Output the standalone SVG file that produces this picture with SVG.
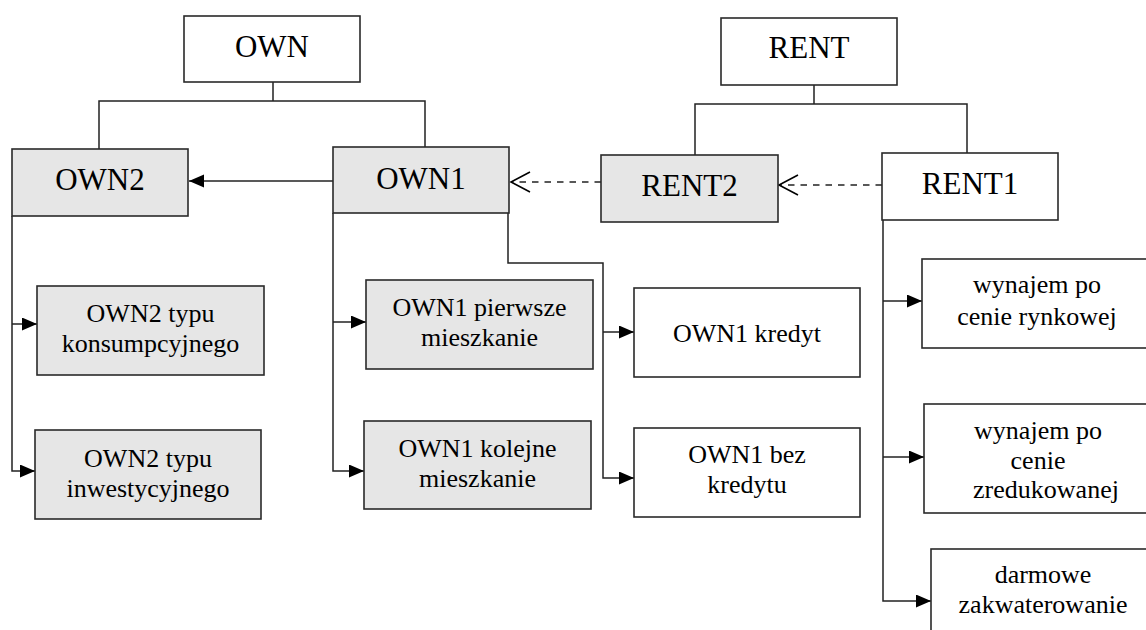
<svg xmlns="http://www.w3.org/2000/svg" width="1146" height="630" viewBox="0 0 1146 630">
<style>
.box{stroke:#2a2a2a;stroke-width:1.6;fill:#ffffff}
.g{fill:#e6e6e6}
.ln{fill:none;stroke:#222;stroke-width:1.5}
.dash{fill:none;stroke:#222;stroke-width:1.6;stroke-dasharray:6.5,6}
text{font-family:'Liberation Serif','Times New Roman',serif;fill:#000;text-anchor:middle}
.big{font-size:31px}
.sm{font-size:26px}
</style>
<defs>
<marker id="fa" markerUnits="userSpaceOnUse" markerWidth="16" markerHeight="14" refX="15" refY="6.5" orient="auto" viewBox="0 0 16 14">
<path d="M0,0 L15,6.5 L0,13 z" fill="#000"/>
</marker>
<marker id="oa" markerUnits="userSpaceOnUse" markerWidth="22" markerHeight="24" refX="20" refY="11" orient="auto" viewBox="0 0 22 24">
<path d="M1,1 L20,11 L1,21" fill="none" stroke="#000" stroke-width="1.6"/>
</marker>
</defs>
<g id="connectors">
<path class="ln" d="M273,82 V101 M99,149 V101 H425 V147"/>
<path class="ln" d="M814,85 V104 M695,155 V104 H967 V153"/>
<path class="ln" d="M333,181 H189" marker-end="url(#fa)"/>
<path class="dash" d="M601,182 H511" marker-end="url(#oa)"/>
<path class="dash" d="M882,185 H779" marker-end="url(#oa)"/>
<path class="ln" d="M12,216 V471 H35" marker-end="url(#fa)"/>
<path class="ln" d="M12,324 H37" marker-end="url(#fa)"/>
<path class="ln" d="M333,213 V471 H364" marker-end="url(#fa)"/>
<path class="ln" d="M333,322 H366" marker-end="url(#fa)"/>
<path class="ln" d="M508,213 V263 H603 V478 H634" marker-end="url(#fa)"/>
<path class="ln" d="M603,332 H634" marker-end="url(#fa)"/>
<path class="ln" d="M883,220 V601 H931" marker-end="url(#fa)"/>
<path class="ln" d="M883,301 H922" marker-end="url(#fa)"/>
<path class="ln" d="M883,457 H924" marker-end="url(#fa)"/>
</g>
<g id="own"><rect class="box" x="184" y="16" width="176" height="66"/><text class="big" x="272" y="57">OWN</text></g>
<g id="rent"><rect class="box" x="721" y="18" width="176" height="67"/><text class="big" x="809" y="58">RENT</text></g>
<g id="own2"><rect class="box g" x="12" y="149" width="176" height="67"/><text class="big" x="100" y="190">OWN2</text></g>
<g id="own1"><rect class="box g" x="333" y="147" width="176" height="66"/><text class="big" x="421" y="189">OWN1</text></g>
<g id="rent2"><rect class="box g" x="601" y="155" width="177" height="67"/><text class="big" x="689.5" y="196">RENT2</text></g>
<g id="rent1"><rect class="box" x="882" y="153" width="176" height="67"/><text class="big" x="970" y="194">RENT1</text></g>
<g id="own2-konsump"><rect class="box g" x="37" y="286" width="227" height="89"/><text class="sm" x="150.5" y="322">OWN2 typu</text><text class="sm" x="150.5" y="352">konsumpcyjnego</text></g>
<g id="own2-inwest"><rect class="box g" x="35" y="430" width="226" height="89"/><text class="sm" x="148" y="467">OWN2 typu</text><text class="sm" x="148" y="497">inwestycyjnego</text></g>
<g id="own1-pierwsze"><rect class="box g" x="366" y="280" width="227" height="89"/><text class="sm" x="479.5" y="316">OWN1 pierwsze</text><text class="sm" x="479.5" y="346">mieszkanie</text></g>
<g id="own1-kolejne"><rect class="box g" x="364" y="421" width="227" height="88"/><text class="sm" x="477.5" y="457">OWN1 kolejne</text><text class="sm" x="477.5" y="487">mieszkanie</text></g>
<g id="own1-kredyt"><rect class="box" x="634" y="288" width="226" height="89"/><text class="sm" x="747" y="342">OWN1 kredyt</text></g>
<g id="own1-bez"><rect class="box" x="634" y="428" width="226" height="89"/><text class="sm" x="747" y="463">OWN1 bez</text><text class="sm" x="747" y="493">kredytu</text></g>
<g id="rynkowej"><rect class="box" x="922" y="259" width="240" height="89"/><text class="sm" x="1037" y="293">wynajem po</text><text class="sm" x="1037" y="325">cenie rynkowej</text></g>
<g id="zredukowanej"><rect class="box" x="924" y="404" width="240" height="109"/><text class="sm" x="1038" y="439">wynajem po</text><text class="sm" x="1038" y="469">cenie</text><text class="sm" x="1046" y="498">zredukowanej</text></g>
<g id="darmowe"><rect class="box" x="931" y="549" width="240" height="100"/><text class="sm" x="1043" y="583">darmowe</text><text class="sm" x="1043" y="613">zakwaterowanie</text></g>
</svg>
